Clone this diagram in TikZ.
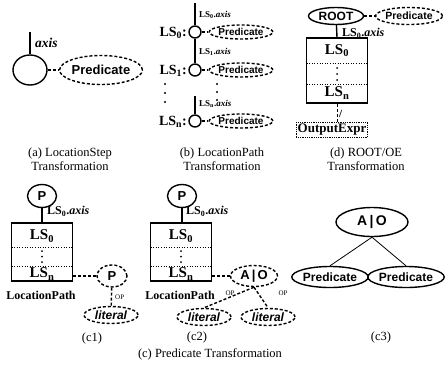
\documentclass[tikz,border=0pt]{standalone}
\usepackage{fontspec}
\setmainfont{Liberation Serif}
\setsansfont{Liberation Sans}
\usetikzlibrary{shapes.geometric}
\newcommand{\fs}[1]{\fontsize{#1}{#1}\selectfont}
\tikzset{
  lw/.style={line width=1.4pt},
  solidell/.style={draw, ellipse, lw, inner sep=0pt, font=\sffamily\bfseries},
  dashell/.style={draw, ellipse, lw, dash pattern=on 3pt off 2pt, inner sep=0pt, font=\sffamily\bfseries},
  conn/.style={lw},
  dconn/.style={lw, dash pattern=on 3pt off 2pt},
  thinconn/.style={line width=0.8pt},
  lpbox/.style={draw, line width=1.6pt, minimum width=61pt, minimum height=58pt, inner sep=0pt},
  rowline/.style={line width=0.6pt, dotted},
  lstxt/.style={font=\bfseries\fs{15}, inner sep=0pt},
  axtxt/.style={font=\bfseries\fs{12}, anchor=west, inner sep=0pt},
  smaxtxt/.style={font=\bfseries\fs{9}, anchor=west, inner sep=0pt},
  captxt/.style={font=\fs{12.5}, align=center, inner sep=0pt},
  optxt/.style={font=\fs{7}, inner sep=0pt},
  littxt/.style={dashell, font=\sffamily\bfseries\itshape\fs{12}, minimum width=54pt, minimum height=17pt},
  bpred/.style={dashell, minimum width=60pt, minimum height=14pt, font=\sffamily\bfseries\fs{10}},
  dotmark/.style={circle, fill, inner sep=0pt, minimum size=2.2pt}
}
\begin{document}
\begin{tikzpicture}[x=1pt,y=-1pt]
\useasboundingbox (0,0) rectangle (446,364);
% ---------- (a)
\node[solidell, minimum width=34pt, minimum height=30pt] (ac) at (30,70) {};
\coordinate (atop) at (30,32);
\draw[conn] (atop) -- (ac.north);
\node[font=\bfseries\itshape\fs{13.5}, anchor=west, inner sep=0pt] (aax) at (35,43) {axis};
\node[dashell, minimum width=74pt, minimum height=29pt, font=\sffamily\bfseries\fs{13}] (ap) at (101,70) {Predicate};
\draw[dconn] (ac) -- (ap);
\node[captxt] (acap) at (70,159) {(a) LocationStep\\[1pt]Transformation};
% ---------- (b)
\node[solidell, minimum size=12pt] (b0) at (195,32) {};
\node[solidell, minimum size=12pt] (b1) at (195,70) {};
\node[solidell, minimum size=12pt] (bn) at (195,121) {};
\coordinate (btop) at (195,3);
\coordinate (bntop) at (195,96);
\draw[conn] (btop) -- (b0);
\draw[conn] (b0) -- (b1);
\draw[conn] (bntop) -- (bn);
\node[smaxtxt] (bax0) at (199,15) {LS\textsubscript{0}.\textit{axis}};
\node[smaxtxt] (bax1) at (199,52) {LS\textsubscript{1}.\textit{axis}};
\node[smaxtxt] (baxn) at (199,104) {LS\textsubscript{n}.\textit{axis}};
\node[font=\bfseries\fs{14}, anchor=east, inner sep=0pt] (bl0) at (187,33) {LS\textsubscript{0}:};
\node[font=\bfseries\fs{14}, anchor=east, inner sep=0pt] (bl1) at (187,71) {LS\textsubscript{1}:};
\node[font=\bfseries\fs{14}, anchor=east, inner sep=0pt] (bln) at (187,122) {LS\textsubscript{n}:};
\node[bpred] (bp0) at (241,32) {Predicate};
\node[bpred] (bp1) at (241,70) {Predicate};
\node[bpred] (bpn) at (241,121) {Predicate};
\draw[dconn] (b0) -- (bp0);
\draw[dconn] (b1) -- (bp1);
\draw[dconn] (bn) -- (bpn);
\node[dotmark] (bd1) at (165,84) {};
\node[dotmark] (bd2) at (165,93) {};
\node[dotmark] (bd3) at (165,102) {};
\node[dotmark] (bd4) at (217,84) {};
\node[dotmark] (bd5) at (217,92) {};
\node[dotmark] (bd6) at (217,100) {};
\node[captxt] (bcap) at (222,159) {(b) LocationPath\\[1pt]Transformation};
% ---------- (d)
\node[solidell, minimum width=55pt, minimum height=17pt, font=\sffamily\bfseries\fs{12}] (droot) at (336,16) {ROOT};
\node[dashell, minimum width=63pt, minimum height=17pt, font=\sffamily\bfseries\fs{10.5}] (dp) at (409,16) {Predicate};
\draw[dconn] (droot) -- (dp);
\node[draw, line width=1.6pt, minimum width=61pt, minimum height=65pt, inner sep=0pt] (dbox) at (337,70.5) {};
\draw[conn] (droot) -- (dbox.north);
\node[axtxt] (dax) at (342,33) {LS\textsubscript{0}.\textit{axis}};
\node[lstxt] (dl0) at (337,51) {LS\textsubscript{0}};
\node[lstxt] (dln) at (337,93) {LS\textsubscript{n}};
\coordinate (dr1) at (306.5,63);
\coordinate (dr2) at (306.5,84);
\draw[rowline] (dr1) -- (dr1 -| dbox.east);
\draw[rowline] (dr2) -- (dr2 -| dbox.east);
\node[dotmark, minimum size=2pt] (dd1) at (337,68) {};
\node[dotmark, minimum size=2pt] (dd2) at (337,74) {};
\node[dotmark, minimum size=2pt] (dd3) at (337,80) {};
\node[draw, densely dotted, line width=0.8pt, font=\bfseries\fs{13}, inner sep=1.5pt] (doe) at (332,130) {OutputExpr};
\draw[line width=0.8pt, densely dashed] (dbox.south) -- (dbox.south |- doe.north);
\node[font=\bfseries\fs{11}, anchor=west, inner sep=0pt] (dsl) at (339,114) {/};
\node[captxt] (dcap) at (366,159) {(d) ROOT/OE\\[1pt]Transformation};
% ---------- (c1)
\node[solidell, minimum width=29pt, minimum height=23pt, font=\sffamily\bfseries\fs{13}] (c1p) at (42,196) {P};
\node[lpbox] (c1box) at (42,252) {};
\draw[conn] (c1p) -- (c1box.north);
\node[axtxt] (c1ax) at (47,211) {LS\textsubscript{0}.\textit{axis}};
\node[lstxt] (c1l0) at (42,236) {LS\textsubscript{0}};
\node[lstxt] (c1ln) at (42,274) {LS\textsubscript{n}};
\coordinate (c1r1) at (11.5,247);
\coordinate (c1r2) at (11.5,266);
\draw[rowline] (c1r1) -- (c1r1 -| c1box.east);
\draw[rowline] (c1r2) -- (c1r2 -| c1box.east);
\node[dotmark, minimum size=2pt] (c1d1) at (42,251) {};
\node[dotmark, minimum size=2pt] (c1d2) at (42,256.5) {};
\node[dotmark, minimum size=2pt] (c1d3) at (42,262) {};
\node[font=\bfseries\fs{12}, inner sep=0pt] (c1lp) at (41,295) {LocationPath};
\node[dashell, minimum width=30pt, minimum height=22pt, font=\sffamily\bfseries\fs{13}] (c1pd) at (112,276) {P};
\draw[dconn] (c1pd) -- (c1pd -| c1box.east);
\node[littxt] (c1lit) at (111,315) {literal};
\draw[dconn] (c1pd) -- (c1lit);
\node[optxt, anchor=west] (c1op) at (115,297) {OP};
\node[captxt] (c1cap) at (92,338) {(c1)};
% ---------- (c2)
\node[solidell, minimum width=29pt, minimum height=23pt, font=\sffamily\bfseries\fs{13}] (c2p) at (182,196) {P};
\node[lpbox] (c2box) at (181,252) {};
\draw[conn] (c2p) -- (c2p |- c2box.north);
\node[axtxt] (c2ax) at (186,211) {LS\textsubscript{0}.\textit{axis}};
\node[lstxt] (c2l0) at (181,236) {LS\textsubscript{0}};
\node[lstxt] (c2ln) at (181,274) {LS\textsubscript{n}};
\coordinate (c2r1) at (150.5,247);
\coordinate (c2r2) at (150.5,266);
\draw[rowline] (c2r1) -- (c2r1 -| c2box.east);
\draw[rowline] (c2r2) -- (c2r2 -| c2box.east);
\node[dotmark, minimum size=2pt] (c2d1) at (181,251) {};
\node[dotmark, minimum size=2pt] (c2d2) at (181,256.5) {};
\node[dotmark, minimum size=2pt] (c2d3) at (181,262) {};
\node[font=\bfseries\fs{12}, inner sep=0pt] (c2lp) at (180,295) {LocationPath};
\node[dashell, minimum width=47pt, minimum height=21pt, font=\sffamily\bfseries\fs{13}] (c2ao) at (254,276) {A\,|\,O};
\draw[dconn] (c2ao) -- (c2ao -| c2box.east);
\node[littxt] (c2lit1) at (204,317) {literal};
\node[littxt] (c2lit2) at (268,317) {literal};
\draw[dconn] (c2ao.south) -- (c2lit1.north);
\draw[dconn] (c2ao.south) -- (c2lit2.north);
\node[optxt] (c2op1) at (230,293) {OP};
\node[optxt] (c2op2) at (283,293) {OP};
\node[captxt] (c2cap) at (197,337) {(c2)};
\node[captxt] (ccap) at (210,354) {(c) Predicate Transformation};
% ---------- (c3)
\node[solidell, minimum width=72pt, minimum height=29pt, font=\sffamily\bfseries\fs{14}] (c3ao) at (372,222) {A\,|\,O};
\node[solidell, minimum width=62pt, minimum height=21pt, font=\sffamily\bfseries\fs{12}] (c3p1) at (330,277) {Predicate};
\node[solidell, minimum width=62pt, minimum height=21pt, font=\sffamily\bfseries\fs{12}] (c3p2) at (406,277) {Predicate};
\draw[thinconn] (c3ao.south) -- (c3p1.north);
\draw[thinconn] (c3ao.south) -- (c3p2.north);
\node[captxt] (c3cap) at (381,337) {(c3)};
\end{tikzpicture}
\end{document}
